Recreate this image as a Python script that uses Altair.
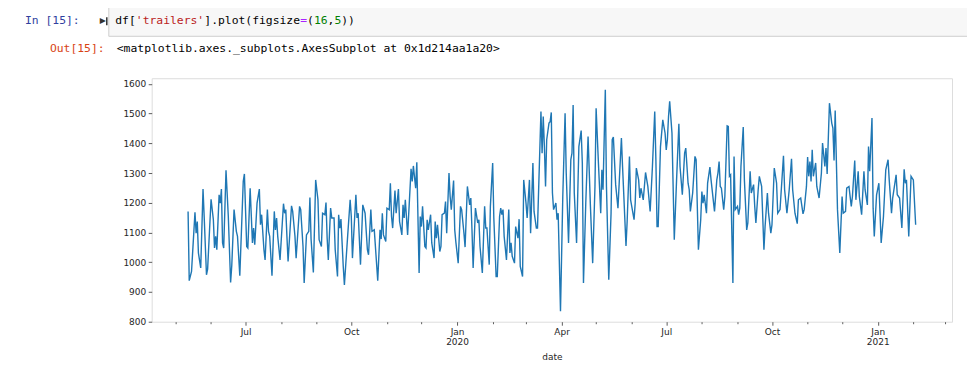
import altair as alt
import pandas as pd

# ---------------- data ----------------
START = "2019-05-12"
DAYS = [0, 1, 3, 6, 7, 8, 9, 11, 13, 14, 16, 17, 20, 22, 23, 24, 25, 27, 28, 29, 30, 31, 33, 35, 37, 38,
        40, 42, 43, 45, 48, 49, 51, 52, 54, 56, 57, 58, 60, 62, 63, 64, 66, 67, 69, 70, 71, 73, 75, 76, 77,
        78, 80, 83, 84, 85, 86, 87, 90, 91, 93, 94, 97, 98, 100, 101, 103, 105, 106, 107, 109, 111, 113,
        114, 116, 117, 119, 120, 121, 122, 124, 125, 127, 128, 130, 131, 132, 133, 135, 136, 139, 141, 142,
        143, 146, 147, 148, 150, 152, 154, 156, 157, 159, 160, 162, 165, 167, 168, 169, 170, 172, 173, 175,
        176, 177, 178, 180, 181, 183, 184, 186, 187, 188, 189, 191, 194, 195, 196, 198, 199, 201, 202, 203,
        204, 206, 207, 208, 209, 211, 212, 214, 215, 216, 217, 219, 220, 221, 223, 224, 225, 227, 228, 229,
        231, 232, 233, 235, 237, 238, 240, 241, 243, 245, 246, 247, 248, 250, 252, 253, 254, 256, 258, 259,
        260, 262, 263, 265, 266, 268, 269, 271, 272, 273, 274, 275, 277, 279, 280, 281, 282, 284, 285, 287,
        288, 289, 291, 292, 294, 295, 297, 298, 300, 301, 303, 304, 307, 308, 309, 310, 311, 312, 314, 315,
        316, 317, 318, 320, 321, 322, 324, 326, 328, 329, 331, 333, 334, 335, 336, 338, 340, 342, 343, 344,
        346, 348, 350, 352, 354, 355, 357, 359, 360, 361, 363, 364, 366, 368, 369, 370, 372, 374, 377, 378,
        381, 382, 384, 385, 386, 388, 389, 390, 392, 393, 394, 396, 397, 398, 400, 402, 404, 406, 407, 408,
        409, 411, 413, 415, 416, 417, 418, 419, 421, 423, 425, 427, 428, 430, 432, 433, 435, 436, 437, 439,
        441, 442, 444, 446, 447, 448, 449, 451, 452, 454, 455, 458, 460, 461, 462, 463, 464, 466, 467, 469,
        470, 471, 472, 474, 475, 476, 478, 479, 480, 481, 483, 484, 486, 487, 489, 490, 492, 493, 494, 496,
        497, 499, 501, 502, 504, 505, 507, 508, 510, 512, 513, 515, 518, 519, 521, 523, 525, 526, 528, 530,
        531, 533, 535, 536, 538, 539, 540, 541, 542, 543, 544, 546, 547, 549, 551, 552, 554, 555, 556, 558,
        560, 561, 562, 563, 565, 567, 569, 570, 572, 573, 575, 576, 577, 578, 580, 581, 583, 584, 586, 588,
        589, 591, 592, 593, 595, 596, 597, 599, 601, 603, 605, 607, 609, 610, 612, 613, 616, 617, 619, 621,
        623, 624, 625, 627, 629, 631, 633]
TRAILERS = [1171, 938, 969, 1168, 1098, 1137, 1031, 981, 1246, 1154, 958, 977, 1212, 1143, 1048, 1087, 1042,
            1227, 1199, 1246, 1065, 1048, 1309, 1154, 932, 988, 1177, 1104, 1087, 955, 1272, 1297, 1053, 1048,
            1249, 1065, 1115, 1059, 1199, 1246, 1126, 1160, 1042, 1008, 1177, 1104, 1087, 955, 1171, 1109, 1149,
            1087, 1008, 1197, 1165, 1177, 1087, 1003, 1190, 1171, 1087, 1014, 1188, 1177, 1053, 930, 1092, 1104,
            1218, 1078, 966, 1277, 1210, 1076, 1053, 1165, 1160, 1201, 1081, 1008, 1182, 1149, 1149, 1042, 952,
            1160, 1115, 1145, 986, 924, 1098, 1210, 1154, 1014, 1227, 1149, 1165, 992, 1193, 1165, 1042, 1025,
            1177, 1104, 1109, 938, 1109, 1078, 1165, 1092, 1070, 1182, 1177, 1266, 1154, 1115, 1241, 1165, 1246,
            1137, 1092, 1193, 1149, 1210, 1092, 1314, 1272, 1324, 1249, 1336, 964, 1154, 1120, 1188, 1053, 1048,
            1143, 1109, 1160, 1065, 1014, 1137, 1081, 1126, 1036, 1053, 1160, 1165, 1204, 1098, 1300, 1221, 1177,
            1275, 1109, 1067, 997, 1188, 1177, 1098, 1051, 1255, 1193, 1216, 1109, 981, 1182, 1132, 1143, 1053,
            964, 1188, 1115, 1115, 992, 1188, 1334, 1149, 952, 952, 1154, 1182, 1160, 1177, 1087, 1008, 1177,
            1031, 1065, 1020, 997, 1120, 1081, 1145, 986, 952, 1277, 1199, 1149, 1277, 1098, 1334, 1171, 1115,
            1115, 1507, 1367, 1490, 1389, 1255, 1412, 1468, 1473, 1504, 1233, 1177, 1199, 1143, 1165, 835, 1221,
            1501, 1300, 1065, 1345, 1367, 1529, 1233, 1065, 1389, 1443, 1334, 930, 1199, 1423, 1193, 997, 1255,
            1518, 1334, 1165, 1311, 1244, 1580, 1255, 941, 1165, 1412, 1421, 1261, 1182, 1418, 1322, 1055, 1137,
            1356, 1210, 1188, 1143, 1199, 1317, 1277, 1216, 1249, 1210, 1255, 1302, 1255, 1171, 1322, 1507, 1345,
            1120, 1120, 1389, 1479, 1434, 1378, 1412, 1490, 1541, 1434, 1076, 1277, 1466, 1322, 1227, 1367, 1384,
            1266, 1244, 1171, 1233, 1356, 1345, 1042, 1143, 1238, 1199, 1227, 1165, 1266, 1320, 1277, 1171, 1277,
            1300, 1339, 1255, 1249, 1177, 1221, 1459, 1457, 1289, 1294, 930, 1356, 1177, 1188, 1160, 1182, 1322,
            1455, 1277, 1109, 1132, 1306, 1233, 1261, 1188, 1132, 1244, 1289, 1255, 1042, 1120, 1233, 1165, 1098,
            1126, 1317, 1266, 1165, 1177, 1358, 1244, 1165, 1244, 1348, 1244, 1165, 1130, 1210, 1216, 1163, 1177,
            1255, 1354, 1289, 1339, 1272, 1378, 1289, 1334, 1255, 1216, 1300, 1401, 1322, 1384, 1297, 1535, 1468,
            1451, 1342, 1510, 1177, 1031, 1221, 1165, 1171, 1249, 1255, 1221, 1188, 1221, 1342, 1210, 1306, 1221,
            1160, 1306, 1244, 1193, 1389, 1306, 1485, 1182, 1087, 1227, 1266, 1065, 1154, 1311, 1345, 1277, 1165,
            1216, 1294, 1227, 1216, 1115, 1313, 1266, 1277, 1087, 1289, 1277, 1126]
Y_TICKS = [800, 900, 1000, 1100, 1200, 1300, 1400, 1500, 1600]
Y_DOMAIN = [800, 1619]
MONTH_TICKS_FROM, MONTH_TICKS_TO = "2019-05-01", "2021-03-01"

CELL_IN = "In [15]:"
CELL_OUT = "Out[15]:"
CODE_PARTS = [("df[", "#000000"), ("'trailers'", "#BA2121"), ("].plot(figsize", "#000000"),
              ("=", "#AA22FF"), ("(", "#000000"), ("16", "#008000"), (",", "#000000"),
              ("5", "#008000"), ("))", "#000000")]
OUT_TEXT = "<matplotlib.axes._subplots.AxesSubplot at 0x1d214aa1a20>"

# ---------------- table ----------------
dates = pd.Timestamp(START) + pd.to_timedelta(DAYS, unit="D")
df = pd.DataFrame({"date": dates.strftime("%Y-%m-%d"), "trailers": TRAILERS})

t0 = pd.Timestamp(START, tz="UTC")
t1 = t0 + pd.Timedelta(days=DAYS[-1])
pad = (t1 - t0) * 0.05
x_domain = [int((t0 - pad).value // 10**6), int((t1 + pad).value // 10**6)]
months = pd.date_range(MONTH_TICKS_FROM, MONTH_TICKS_TO, freq="MS", tz="UTC")
month_ms = [int(m.value // 10**6) for m in months]

# ---------------- layout ----------------
W, H = 802, 244
OX, OY = 152, 78          # page position of plot origin
MONO = "DejaVu Sans Mono"
FS = 11.4
CW = FS * 0.602           # monospace advance

quarter = "utcmonth(datum.value) % 3 == 0"
label_expr = (f"{quarter} ? (utcmonth(datum.value) == 0 ? "
              "[utcFormat(datum.value, '%b'), utcFormat(datum.value, '%Y')] : "
              "utcFormat(datum.value, '%b')) : ''")

line = alt.Chart(df).mark_line(color="#1f77b4", strokeWidth=1.4).encode(
    x=alt.X("date:T",
            scale=alt.Scale(type="utc", domain=x_domain, nice=False),
            axis=alt.Axis(values=month_ms, title="date", grid=False, domain=False,
                          labelExpr=label_expr, labelOverlap=False, labelFlush=False,
                          tickSize={"condition": {"test": quarter, "value": 3.5}, "value": 2},
                          tickColor="#333333", tickWidth=0.8,
                          labelFont="DejaVu Sans", labelFontSize=9, labelColor="#262626",
                          labelLineHeight=10, labelPadding=2,
                          titleFont="DejaVu Sans", titleFontSize=9, titleFontWeight="normal",
                          titleColor="#262626", titlePadding=6)),
    y=alt.Y("trailers:Q",
            scale=alt.Scale(domain=Y_DOMAIN, nice=False, zero=False),
            axis=alt.Axis(values=Y_TICKS, title=None, grid=False, domain=False, tickSize=3.5,
                          format="d", tickColor="#333333", tickWidth=0.8,
                          labelFont="DejaVu Sans", labelFontSize=9, labelColor="#262626",
                          labelPadding=2.5)),
)

one = pd.DataFrame({"k": [0]})


def text_layer(s, px, py, color, size=FS, font=MONO, align="left", weight="normal"):
    return alt.Chart(one).mark_text(text=s, align=align, baseline="middle", font=font,
                                    fontSize=size, color=color, fontWeight=weight).encode(
        x=alt.value(px - OX), y=alt.value(py - OY))


layers = []
# input cell box
layers.append(alt.Chart(one).mark_rect(fill="#f7f7f7", stroke="#cfcfcf", strokeWidth=1).encode(
    x=alt.value(109 - OX), x2=alt.value(970 - OX), y=alt.value(7 - OY), y2=alt.value(36 - OY)))
layers.append(text_layer(CELL_IN, 25, 21, "#303F9F"))
layers.append(text_layer("▶", 100, 21, "#333333", size=8, font="DejaVu Sans"))
layers.append(alt.Chart(one).mark_rule(color="#333333", strokeWidth=1.5).encode(
    x=alt.value(107 - OX), y=alt.value(17 - OY), y2=alt.value(25 - OY)))
pos = 115.5
for part, col in CODE_PARTS:
    layers.append(text_layer(part, pos, 21, col))
    pos += CW * len(part)
layers.append(text_layer(CELL_OUT, 50, 49, "#D84315"))
layers.append(text_layer(OUT_TEXT, 117, 49, "#000000"))

chart = alt.layer(line, *layers).properties(
    width=W, height=H,
    autosize=alt.AutoSizeParams(type="none"),
    padding={"left": OX - 8, "top": OY - 8, "right": 15, "bottom": 40},
).configure_view(stroke="#333333", strokeWidth=0.8).configure(background="white")

chart.save("out.html", embed_options={"renderer": "svg", "actions": False})
